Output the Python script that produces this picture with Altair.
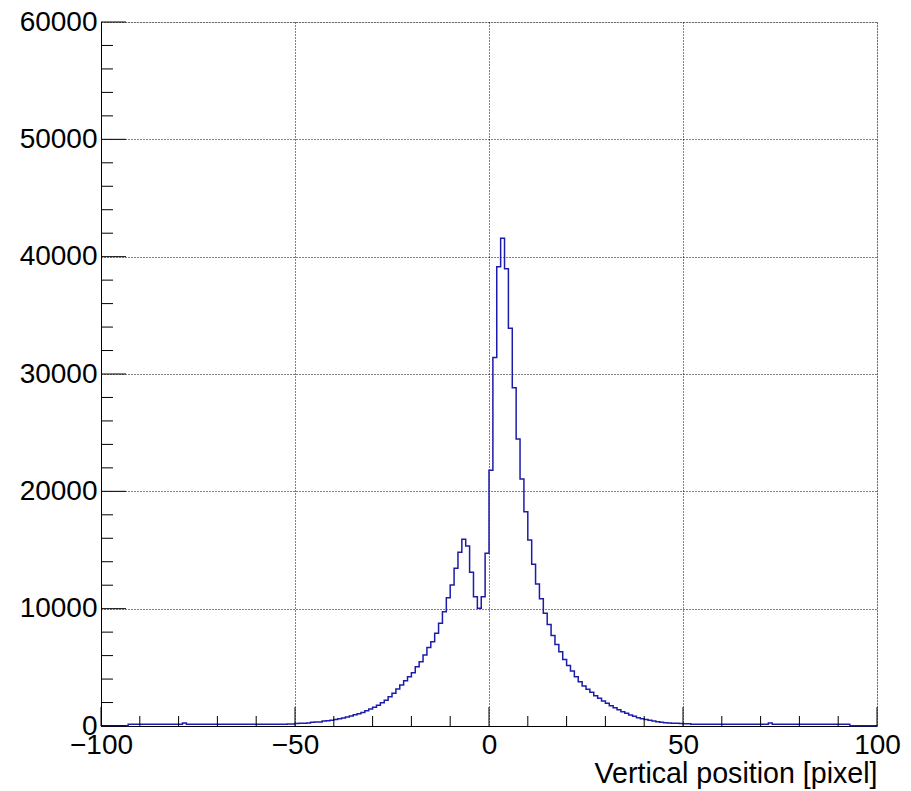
import altair as alt
import pandas as pd

# ---- data (bins of width 1 from -100 to 100) ----
bin_left = list(range(-100, 100))
counts = [
    # -100 .. -91
    20, 20, 20, 20, 20, 20, 20, 150, 150, 150,
    # -90 .. -81
    150, 150, 150, 150, 150, 150, 150, 150, 150, 150,
    # -80 .. -71
    150, 250, 150, 150, 150, 150, 150, 150, 150, 150,
    # -70 .. -61
    150, 150, 150, 150, 150, 150, 150, 150, 150, 150,
    # -60 .. -51
    150, 150, 150, 150, 150, 150, 150, 155, 160, 170,
    # -50 .. -41
    220, 230, 240, 250, 320, 340, 350, 430, 450, 480,
    # -40 .. -31
    560, 620, 690, 760, 860, 950, 1040, 1160, 1300, 1450,
    # -30 .. -21
    1600, 1760, 1980, 2200, 2500, 2800, 3150, 3500, 3860, 4200,
    # -20 .. -11
    4540, 5050, 5480, 6050, 6680, 7190, 7900, 8750, 9740, 10940,
    # -10 .. -1
    12020, 13440, 14810, 15920, 15350, 13100, 11020, 10030, 11020, 14720,
    # 0 .. 9
    21800, 31400, 39150, 41580, 38960, 33900, 28830, 24450, 21050, 18270,
    # 10 .. 19
    15860, 13790, 12110, 10850, 9600, 8640, 7720, 6950, 6330, 5660,
    # 20 .. 29
    5160, 4690, 4200, 3780, 3410, 3130, 2870, 2580, 2360, 2130,
    # 30 .. 39
    1930, 1730, 1560, 1390, 1220, 1080, 940, 830, 710, 620,
    # 40 .. 49
    560, 480, 420, 370, 320, 280, 260, 240, 230, 220,
    # 50 .. 59
    200, 190, 150, 150, 150, 150, 150, 150, 150, 150,
    # 60 .. 69
    150, 150, 150, 150, 150, 150, 150, 150, 150, 150,
    # 70 .. 79
    150, 150, 250, 150, 150, 150, 150, 150, 150, 150,
    # 80 .. 89
    150, 150, 150, 150, 150, 150, 150, 150, 150, 150,
    # 90 .. 99
    150, 150, 150, 20, 20, 20, 20, 20, 20, 20,
]
bin_width = 1

x_major = [-100, -50, 0, 50, 100]
x_minor = [-90, -80, -70, -60, -40, -30, -20, -10, 10, 20, 30, 40, 60, 70, 80, 90]
y_major = [0, 10000, 20000, 30000, 40000, 50000, 60000]
y_minor = [v for v in range(2000, 60000, 2000) if v % 10000 != 0]

x_title = "Vertical position [pixel]"

# ---- build step outline from the bins ----
rows = []
for i, (lo, c) in enumerate(zip(bin_left, counts)):
    rows.append({"x": lo, "y": c, "o": 2 * i})
    rows.append({"x": lo + bin_width, "y": c, "o": 2 * i + 1})
hist_df = pd.DataFrame(rows)

W, H = 776, 704
FONT = "Liberation Sans"
xscale = alt.Scale(domain=[-100, 100], nice=False, zero=False)
yscale = alt.Scale(domain=[0, 60000], nice=False)

hist = alt.Chart(hist_df).mark_line(color="#1c1caa", strokeWidth=1.5, interpolate="linear").encode(
    x=alt.X("x:Q", scale=xscale,
            axis=alt.Axis(values=x_major, format="d", ticks=False, domain=True, domainColor="black",
                          domainWidth=1, grid=True, gridColor="black", gridDash=[1, 2], gridOpacity=1,
                          gridWidth=1, labelFont=FONT, labelFontSize=28, labelColor="black",
                          labelPadding=5, labelOverlap=False, labelFlush=False,
                          title=x_title, titleFont=FONT, titleFontSize=28.6, titleFontWeight="normal",
                          titleColor="black", titleAnchor="end", titleAlign="right",
                          titleBaseline="alphabetic", titleY=56)),
    y=alt.Y("y:Q", scale=yscale,
            axis=alt.Axis(values=y_major, format="d", ticks=False, domain=True, domainColor="black",
                          domainWidth=1, grid=True, gridColor="black", gridDash=[1, 2], gridOpacity=1,
                          gridWidth=1, labelFont=FONT, labelFontSize=28, labelColor="black",
                          labelPadding=4, labelOverlap=False, labelFlush=False, title="")),
    order="o:Q",
)

xmaj = alt.Chart(pd.DataFrame({"x": x_major})).mark_rule(color="black", strokeWidth=1).encode(
    x=alt.X("x:Q", scale=xscale), y=alt.value(H), y2=alt.value(H - 19))
xmin = alt.Chart(pd.DataFrame({"x": x_minor})).mark_rule(color="black", strokeWidth=1).encode(
    x=alt.X("x:Q", scale=xscale), y=alt.value(H), y2=alt.value(H - 10))
ymaj = alt.Chart(pd.DataFrame({"y": y_major})).mark_rule(color="black", strokeWidth=1).encode(
    y=alt.Y("y:Q", scale=yscale), x=alt.value(0), x2=alt.value(25))
ymin = alt.Chart(pd.DataFrame({"y": y_minor})).mark_rule(color="black", strokeWidth=1).encode(
    y=alt.Y("y:Q", scale=yscale), x=alt.value(0), x2=alt.value(12))

chart = alt.layer(hist, xmaj, xmin, ymaj, ymin).properties(
    width=W, height=H,
    autosize=alt.AutoSizeParams(type="none"),
    padding={"left": 101, "top": 22, "right": 34, "bottom": 65},
).configure_view(stroke="black", strokeWidth=1).configure(background="white")

chart.save("out.html", embed_options={"renderer": "svg", "actions": False})
